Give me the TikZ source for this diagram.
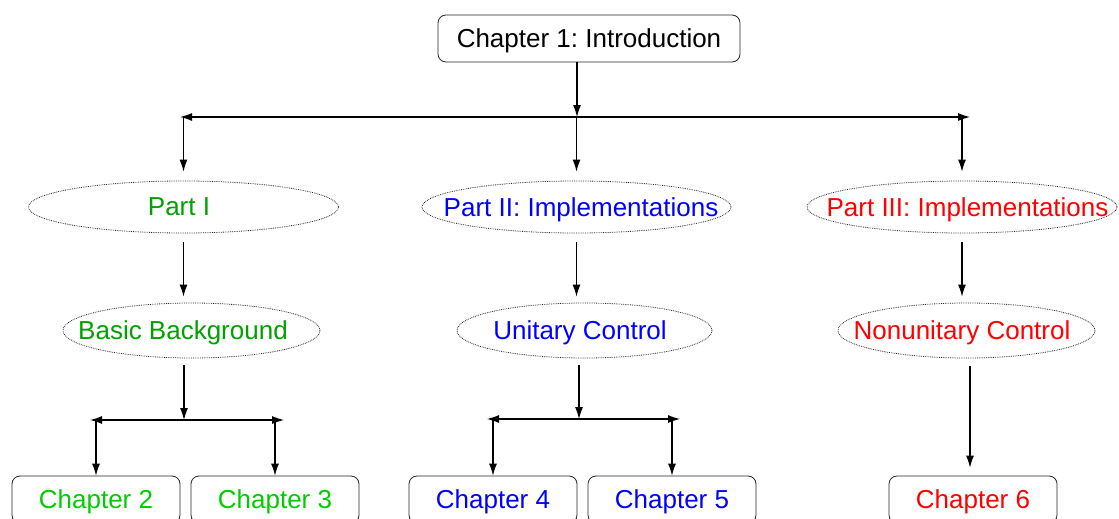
\documentclass[tikz,border=0pt]{standalone}
\usepackage{fontspec}
\setmainfont{Liberation Sans}
\usepackage{tikz}
\usetikzlibrary{shapes.geometric,arrows.meta}
\definecolor{partgreen}{RGB}{0,160,0}
\definecolor{chapgreen}{RGB}{0,204,0}
\frenchspacing

\begin{document}
\begin{tikzpicture}[x=1pt,y=-1pt,
    chapbox/.style={draw=black!85, rounded corners=8pt, line width=0.8pt, minimum width=168pt, minimum height=47pt, inner sep=0pt, text depth=0pt, font=\fontsize{26}{30}\selectfont},
    partell/.style={draw=black!85, ellipse, densely dotted, line width=0.8pt, minimum height=52pt, inner sep=0pt, text depth=0pt, font=\fontsize{26}{30}\selectfont},
    arr/.style={-{Latex[length=12pt,width=8pt]}, line width=1.1pt},
    fork/.style={{Latex[length=12pt,width=8pt]}-{Latex[length=12pt,width=8pt]}, line width=1.1pt}]
            \useasboundingbox (0,0) rectangle (1119,519);
            \node[chapbox, minimum width=302pt] (intro) at (589,38.5) {Chapter 1: Introduction};
            \node[partell, minimum width=310pt, text=partgreen] (part1) at (183.5,207) {\makebox[0pt]{Part I\hspace{9pt}}};
            \node[partell, minimum width=309pt, text=blue] (part2) at (576.5,207) {\makebox[0pt]{\hspace{9pt}Part II: Implementations}};
            \node[partell, minimum width=310pt, text=red] (part3) at (962,207) {\makebox[0pt]{\hspace{11pt}Part III: Implementations}};
            \node[partell, minimum width=257pt, minimum height=55pt, text=partgreen] (bg) at (191.5,330.5) {\makebox[0pt]{Basic Background\hspace{17pt}}};
            \node[partell, minimum width=255pt, minimum height=55pt, text=blue] (unit) at (584.5,330.5) {\makebox[0pt]{Unitary Control\hspace{9pt}}};
            \node[partell, minimum width=257pt, minimum height=55pt, text=red] (nonunit) at (966.5,330.5) {\makebox[0pt]{Nonunitary Control\hspace{9pt}}};
            \node[chapbox, text=chapgreen] (ch2) at (96,499.5) {Chapter 2};
            \node[chapbox, text=chapgreen] (ch3) at (275,499.5) {Chapter 3};
            \node[chapbox, text=blue] (ch4) at (493,499.5) {Chapter 4};
            \node[chapbox, text=blue] (ch5) at (672,499.5) {Chapter 5};
            \node[chapbox, text=red] (ch6) at (973,499.5) {Chapter 6};
            \coordinate (top) at (577,117);
            \coordinate (topL) at (180,117);
            \coordinate (topR) at (970,117);
            \draw[arr] (intro.south -| top) -- (top);
            \draw[fork] (topL) -- (topR);
            \draw[arr, shorten >=9pt] (part1.north |- top) -- (part1.north);
            \draw[arr, shorten >=9pt] (part2.north |- top) -- (part2.north);
            \draw[arr, shorten >=9pt] (part3.north |- top) -- (part3.north);
            \draw[arr, shorten <=9pt, shorten >=6pt] (part1.south) -- (part1.south |- bg.north);
            \draw[arr, shorten <=9pt, shorten >=6pt] (part2.south) -- (part2.south |- unit.north);
            \draw[arr, shorten <=9pt, shorten >=6pt] (part3.south) -- (part3.south |- nonunit.north);
            \coordinate (midA) at (184,420);
            \coordinate (midAL) at (90,420);
            \coordinate (midAR) at (284,420);
            \draw[arr, shorten <=7pt] (bg.south -| midA) -- (midA);
            \draw[fork] (midAL) -- (midAR);
            \draw[arr] (ch2.north |- midA) -- (ch2.north);
            \draw[arr] (ch3.north |- midA) -- (ch3.north);
            \coordinate (midB) at (579,419);
            \coordinate (midBL) at (487,419);
            \coordinate (midBR) at (680,419);
            \draw[arr, shorten <=7pt] (unit.south -| midB) -- (midB);
            \draw[fork] (midBL) -- (midBR);
            \draw[arr] (ch4.north |- midB) -- (ch4.north);
            \draw[arr] (ch5.north |- midB) -- (ch5.north);
            \coordinate (lowC) at (970,366);
            \draw[arr, shorten >=8pt] (nonunit.south -| lowC) ++(0,8) -- (ch6.north -| lowC);
        \end{tikzpicture}
\end{document}
